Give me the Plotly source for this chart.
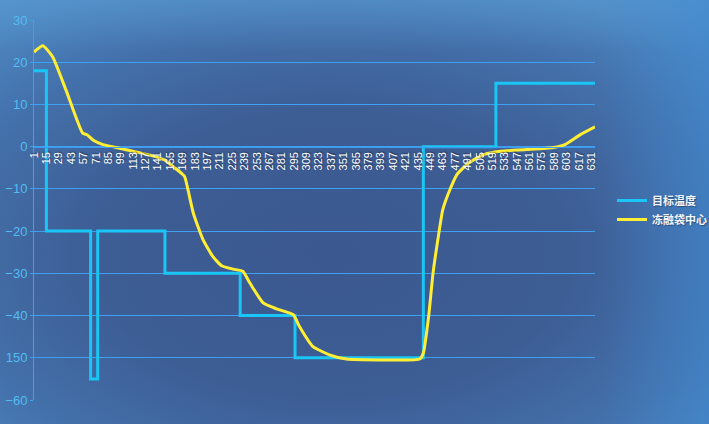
import base64
import plotly.graph_objects as go

# ---- data ----
target_x = [1, 15, 65, 73, 149, 234, 296, 441, 523, 635]
target_y = [18, -20, -55, -20, -30, -40, -50, 0, 15, 15]

center_x = [1, 11, 22, 37, 56, 61, 68, 79, 94, 109, 132, 149, 158, 171, 175, 181, 192, 203,
            213, 226, 237, 245, 260, 275, 294, 301, 316, 335, 354, 392, 437, 441, 447, 452,
            458, 463, 471, 479, 492, 509, 528, 558, 588, 601, 618, 635]
center_y = [22.4, 23.9, 21.3, 13.5, 3.2, 2.8, 1.5, 0.5, -0.2, -0.9, -2.0, -3.2, -4.7, -7.0,
            -10.2, -15.7, -22.0, -26.0, -28.2, -29.0, -29.5, -32.3, -37.0, -38.4, -39.8,
            -42.6, -47.3, -49.3, -50.3, -50.5, -50.3, -48.9, -40.2, -29.9, -21.2, -14.9,
            -10.2, -6.6, -3.9, -1.9, -1.1, -0.7, -0.2, 0.5, 2.8, 4.7]

x_ticks = list(range(1, 632, 14))
y_ticks = [30, 20, 10, 0, -10, -20, -30, -40, -50, -60]
y_ticktext = ["30", "20", "10", "0", "\u221210", "\u221220", "\u221230", "\u221240", "150", "\u221260"]

series_names = ["目标温度", "冻融袋中心"]

# ---- background gradient ----
W, H = 709, 424
svg = f"""<svg xmlns='http://www.w3.org/2000/svg' width='{W}' height='{H}' viewBox='0 0 {W} {H}' preserveAspectRatio='none'>
<defs>
<radialGradient id='g' cx='0.47' cy='0.6' r='0.75'>
<stop offset='0' stop-color='#3b5990'/>
<stop offset='0.45' stop-color='#3d5d95'/>
<stop offset='0.75' stop-color='#4472ac'/>
<stop offset='1' stop-color='#4f8cc6'/>
</radialGradient>
<linearGradient id='t' x1='0' y1='0' x2='0' y2='1'>
<stop offset='0' stop-color='#5a9ad2' stop-opacity='0.55'/>
<stop offset='0.12' stop-color='#5a9ad2' stop-opacity='0'/>
</linearGradient>
<linearGradient id='r' x1='0' y1='0' x2='1' y2='0'>
<stop offset='0.85' stop-color='#3f88d0' stop-opacity='0'/>
<stop offset='1' stop-color='#3f88d0' stop-opacity='0.55'/>
</linearGradient>
</defs>
<rect width='{W}' height='{H}' fill='url(#g)'/>
<rect width='{W}' height='{H}' fill='url(#t)'/>
<rect width='{W}' height='{H}' fill='url(#r)'/>
</svg>"""
bg_uri = "data:image/svg+xml;base64," + base64.b64encode(svg.encode()).decode()

ML, MR, MT, MB = 34, 114, 20, 24
pw = W - ML - MR
ph = H - MT - MB

fig = go.Figure()
fig.add_trace(go.Scatter(
    x=target_x, y=target_y, name=series_names[0], mode="lines",
    line=dict(color="#19c6f5", width=3, shape="hv"),
))
fig.add_trace(go.Scatter(
    x=center_x, y=center_y, name=series_names[1], mode="lines",
    line=dict(color="#ffee33", width=3, shape="spline", smoothing=0.5),
))

fig.update_layout(
    width=W, height=H,
    margin=dict(l=ML, r=MR, t=MT, b=MB, pad=0, autoexpand=False),
    paper_bgcolor="#3e5f97",
    plot_bgcolor="rgba(0,0,0,0)",
    font=dict(family="Liberation Sans, Arial, Noto Sans CJK SC, sans-serif"),
    images=[dict(
        source=bg_uri, xref="paper", yref="paper",
        x=-ML / pw, y=1 + MT / ph, sizex=W / pw, sizey=H / ph,
        xanchor="left", yanchor="top", sizing="stretch", layer="below",
    )],
    showlegend=True,
    legend=dict(
        x=(612 - ML) / pw, y=(H - MB - 210) / ph, xanchor="left", yanchor="middle",
        font=dict(color="#f4f7ff", size=11, family="Noto Sans CJK SC, sans-serif",
                  weight=600, shadow="1px 1px 1px rgba(0,0,0,0.35)"),
        bgcolor="rgba(0,0,0,0)", itemwidth=30, tracegroupgap=4,
    ),
    xaxis=dict(
        range=[1, 635], anchor="free", position=60 / 90,
        tickmode="array", tickvals=x_ticks, ticktext=[str(v) for v in x_ticks],
        tickangle=-90,
        tickfont=dict(color="#ffffff", size=11, shadow="1px 1px 1px rgba(0,0,0,0.4)"),
        showgrid=False, zeroline=False, showline=True, linecolor="#3d9cf0", linewidth=1,
        ticks="", fixedrange=True,
    ),
    yaxis=dict(
        range=[-60, 30], tickmode="array", tickvals=y_ticks, ticktext=y_ticktext,
        tickfont=dict(color="#52bdf2", size=13),
        showgrid=True, gridcolor="#3f9ff0", gridwidth=1, zeroline=False,
        showline=True, linecolor="#3f9ff0", linewidth=1,
        ticks="outside", ticklen=3, tickcolor="#3f9ff0",
    ),
)

fig.write_html(
    "out.html",
    config={"displayModeBar": False},
    post_script="document.body.style.margin='0';document.body.style.padding='0';document.body.style.overflow='hidden';",
)
